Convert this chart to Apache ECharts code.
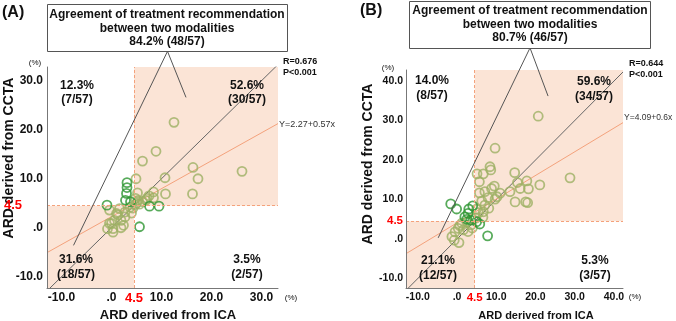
<!DOCTYPE html>
<html>
<head>
<meta charset="utf-8">
<script src="https://cdn.jsdelivr.net/npm/echarts@6/dist/echarts.min.js"></script>
<style>
  html, body { margin: 0; padding: 0; background: #fff; }
  #chart { width: 676px; height: 321px; }
</style>
</head>
<body>
<div id="chart"></div>
<script>
// ---- data ----
// (A) olive = agreement, green = disagreement
const agreeA = [
  [12.5, 21.5], [8.9, 15.6], [6.2, 13.6], [16.3, 12.3], [26.1, 11.5], [17.3, 10.0], [10.7, 10.2],
  [4.9, 10.0], [10.8, 6.9], [16.2, 6.9], [8.4, 7.3], [8.4, 6.1], [5.2, 7.1], [6.9, 5.6], [4.8, 6.0],
  [7.1, 6.0], [5.0, 5.0], [5.6, 4.8], [6.2, 5.3], [5.3, 5.6], [7.5, 6.5], [4.7, 4.7],
  [-0.4, 3.6], [1.0, 2.9], [1.6, 3.9], [2.7, 3.2], [3.7, 4.2], [0.6, 1.5], [1.3, 2.6], [2.7, 2.2],
  [0.0, 0.9], [1.9, 1.5], [-0.4, 0.9], [0.3, -0.2], [-0.8, -0.2], [0.3, -0.9], [2.4, 0.5], [4.0, 3.0],
  [4.3, 4.0], [1.9, 0.0]
]
const disagreeA = [
  [3.1, 9.2], [3.1, 8.2], [3.0, 7.0], [2.8, 5.6], [3.8, 5.3], [-0.9, 4.6], [7.6, 4.4], [9.5, 4.4], [5.6, 0.2]
]
// (B)
const agreeB = [
  [9.7, 23.0], [20.7, 31.1], [8.4, 18.3], [8.6, 17.5], [5.1, 16.5], [6.7, 16.5], [5.7, 14.5],
  [14.7, 16.8], [15.4, 14.3], [17.8, 14.7], [16.1, 12.8], [18.2, 12.7], [21.1, 13.7], [28.8, 15.5],
  [13.5, 12.0], [14.8, 9.4], [17.5, 9.4], [18.0, 9.2], [9.5, 13.4], [8.8, 12.8], [5.7, 11.7],
  [7.1, 12.0], [11.0, 11.6], [10.2, 10.7], [7.9, 10.5], [6.3, 9.6], [9.7, 10.1], [5.0, 7.6],
  [7.1, 8.6], [6.7, 6.9], [5.5, 6.7], [6.6, 5.5], [8.1, 7.8], [4.8, 5.3],
  [1.2, 4.0], [2.5, 4.3], [0.3, 2.7], [-0.5, 1.8], [1.6, 2.3], [2.8, 1.9], [-1.3, 0.6], [-0.7, -0.3],
  [0.5, -0.9], [3.6, 3.6], [3.9, 2.8], [0.7, 3.4]
]
const disagreeB = [
  [-1.6, 8.9], [-0.1, 7.6], [3.0, 7.6], [2.8, 6.5], [2.0, 5.6], [4.0, 8.4], [2.5, 5.0], [3.5, 4.8],
  [5.0, 4.4], [5.8, 3.8], [7.8, 0.8]
]

const cutoff = 4.5
const xTicksA = [-10, 0, 4.5, 10, 20, 30]
const yTicksA = [-10, 0, 4.5, 10, 20, 30]
const xTicksB = [-10, 0, 4.5, 10, 20, 30, 40]
const yTicksB = [-10, 0, 4.5, 10, 20, 30, 40]
const xRangeA = [-12.9, 33.3]
const yRangeA = [-12.3, 32.8]
const xRangeB = [-13, 42.3]
const yRangeB = [-12.4, 42.8]
const fitA = [2.27, 0.57]   // intercept, slope
const fitB = [4.09, 0.6]
const calloutA = [[-7.6, -3.6], [11.2, 36.0], [14.9, 26.6]]
const calloutB = [[-4.8, 0.3], [18.6, 48.4], [23.2, 36.2]]

const olive = '#9db064'
const green = '#2e9632'
const peach = '#fbe4d6'
const orange = '#f4a27c'
const font = 'Liberation Sans'

let myChart = echarts.init(document.getElementById('chart'), null, { renderer: 'canvas' })

function tickFmt (v) {
  if (v === cutoff) return '{red|4.5}'
  if (v === 0) return '.0'
  return v.toFixed(1)
}

function makeAxis (idx, ticks, range, size, redPad, margin) {
  return {
    type: 'value',
    gridIndex: idx,
    min: range[0],
    max: range[1],
    z: 10,
    splitLine: { show: false },
    axisTick: { show: false },
    axisLine: { show: true, onZero: false, lineStyle: { color: '#777', width: 1 } },
    axisLabel: {
      customValues: ticks,
      formatter: tickFmt,
      margin: margin,
      color: '#111',
      fontFamily: font,
      fontWeight: 'bold',
      fontSize: size,
      rich: {
        red: { color: '#ff0000', fontFamily: font, fontWeight: 'bold', fontSize: size + 1, padding: redPad }
      }
    }
  }
}

function panelSeries (idx, agree, disagree, xr, yr, fit, callout) {
  let circle = (color) => ({
    color: 'rgba(0,0,0,0)', borderColor: color, borderWidth: 1.8
  })
  return [
    {
      // identity line + shaded quadrants + 4.5 cut-offs
      type: 'line', xAxisIndex: idx, yAxisIndex: idx, z: 1,
      data: [[xr[0], xr[0]], [xr[1], xr[1]]],
      symbol: 'none', lineStyle: { color: '#666', width: 1 },
      markArea: {
        silent: true,
        itemStyle: { color: peach },
        data: [
          [{ coord: [cutoff, cutoff] }, { coord: [xr[1], yr[1]] }],
          [{ coord: [xr[0], yr[0]] }, { coord: [cutoff, cutoff] }]
        ]
      },
      markLine: {
        silent: true, symbol: 'none', label: { show: false },
        lineStyle: { color: orange, type: [3, 2], width: 1 },
        data: [{ xAxis: cutoff }, { yAxis: cutoff }]
      }
    },
    {
      type: 'line', xAxisIndex: idx, yAxisIndex: idx, z: 2,
      data: [[xr[0], fit[0] + fit[1] * xr[0]], [xr[1], fit[0] + fit[1] * xr[1]]],
      symbol: 'none', lineStyle: { color: orange, width: 1 }
    },
    {
      type: 'scatter', xAxisIndex: idx, yAxisIndex: idx, z: 3,
      symbol: 'circle', symbolSize: 9, data: agree, itemStyle: circle(olive)
    },
    {
      type: 'scatter', xAxisIndex: idx, yAxisIndex: idx, z: 4,
      symbol: 'circle', symbolSize: 9, data: disagree, itemStyle: circle(green)
    },
    {
      // callout from the agreement box
      type: 'line', xAxisIndex: idx, yAxisIndex: idx, z: 5, clip: false,
      data: callout, symbol: 'none', lineStyle: { color: '#555', width: 1 }
    }
  ]
}

function txt (x, y, text, size, opts) {
  return {
    type: 'text', x: x, y: y, z: 10, silent: true,
    style: Object.assign({
      text: text, fontFamily: font, fontSize: size, fontWeight: 'bold', fill: '#111',
      align: 'center', verticalAlign: 'middle', lineHeight: size + 2
    }, opts || {})
  }
}

let titleA = txt(9, 158, 'ARD derived from CCTA', 14)
titleA.rotation = Math.PI / 2
let titleB = txt(368, 164, 'ARD derived from CCTA', 14)
titleB.rotation = Math.PI / 2

let option = {
  animation: false,
  grid: [
    { left: 47, top: 67, width: 231, height: 221 },
    { left: 406, top: 70, width: 217, height: 218 }
  ],
  xAxis: [
    makeAxis(0, xTicksA, xRangeA, 12, 0, 4),
    makeAxis(1, xTicksB, xRangeB, 10.5, 0, 4)
  ],
  yAxis: [
    makeAxis(0, yTicksA, yRangeA, 12, [0, 21, 0, 0], 4),
    makeAxis(1, yTicksB, yRangeB, 10.5, 0, 3)
  ],
  series: [].concat(
    panelSeries(0, agreeA, disagreeA, xRangeA, yRangeA, fitA, calloutA),
    panelSeries(1, agreeB, disagreeB, xRangeB, yRangeB, fitB, calloutB)
  ),
  graphic: [
    txt(2, 13, '(A)', 16, { align: 'left' }),
    txt(360, 11, '(B)', 16, { align: 'left' }),
    // agreement boxes
    { type: 'rect', z: 9, shape: { x: 47.5, y: 4.5, width: 240, height: 47 }, style: { fill: '#fff', stroke: '#555', lineWidth: 1 } },
    { type: 'rect', z: 9, shape: { x: 409.5, y: 1.5, width: 241, height: 47 }, style: { fill: '#fff', stroke: '#555', lineWidth: 1 } },
    txt(167, 28.5, 'Agreement of treatment recommendation\nbetween two modalities\n84.2% (48/57)', 12, { lineHeight: 13.5 }),
    txt(530, 24.5, 'Agreement of treatment recommendation\nbetween two modalities\n80.7% (46/57)', 12, { lineHeight: 13.5 }),
    // quadrant shares
    txt(77, 93, '12.3%\n(7/57)', 12, { lineHeight: 14 }),
    txt(247, 93, '52.6%\n(30/57)', 12, { lineHeight: 14 }),
    txt(76, 267, '31.6%\n(18/57)', 12, { lineHeight: 15 }),
    txt(247, 267, '3.5%\n(2/57)', 12, { lineHeight: 15 }),
    txt(432, 88, '14.0%\n(8/57)', 12, { lineHeight: 15 }),
    txt(594, 89, '59.6%\n(34/57)', 12, { lineHeight: 15 }),
    txt(438, 268, '21.1%\n(12/57)', 12, { lineHeight: 15 }),
    txt(595, 268, '5.3%\n(3/57)', 12, { lineHeight: 15 }),
    // stats
    txt(283, 67, 'R=0.676\nP<0.001', 9, { align: 'left', lineHeight: 11 }),
    txt(629, 69.5, 'R=0.644\nP<0.001', 9, { align: 'left', lineHeight: 11 }),
    txt(279, 125, 'Y=2.27+0.57x', 9, { align: 'left', fontWeight: 'normal', fill: '#333' }),
    txt(624, 118, 'Y=4.09+0.6x', 8.5, { align: 'left', fontWeight: 'normal', fill: '#333' }),
    // units
    txt(35, 63, '(%)', 8, { fontWeight: 'normal' }),
    txt(291, 298, '(%)', 8, { fontWeight: 'normal' }),
    txt(388, 68, '(%)', 8, { fontWeight: 'normal' }),
    txt(635, 297, '(%)', 8, { fontWeight: 'normal' }),
    // axis titles
    txt(168, 315, 'ARD derived from ICA', 13),
    txt(536, 316, 'ARD derived from ICA', 11),
    titleA,
    titleB
  ]
}

myChart.setOption(option, true)
</script>
</body>
</html>
